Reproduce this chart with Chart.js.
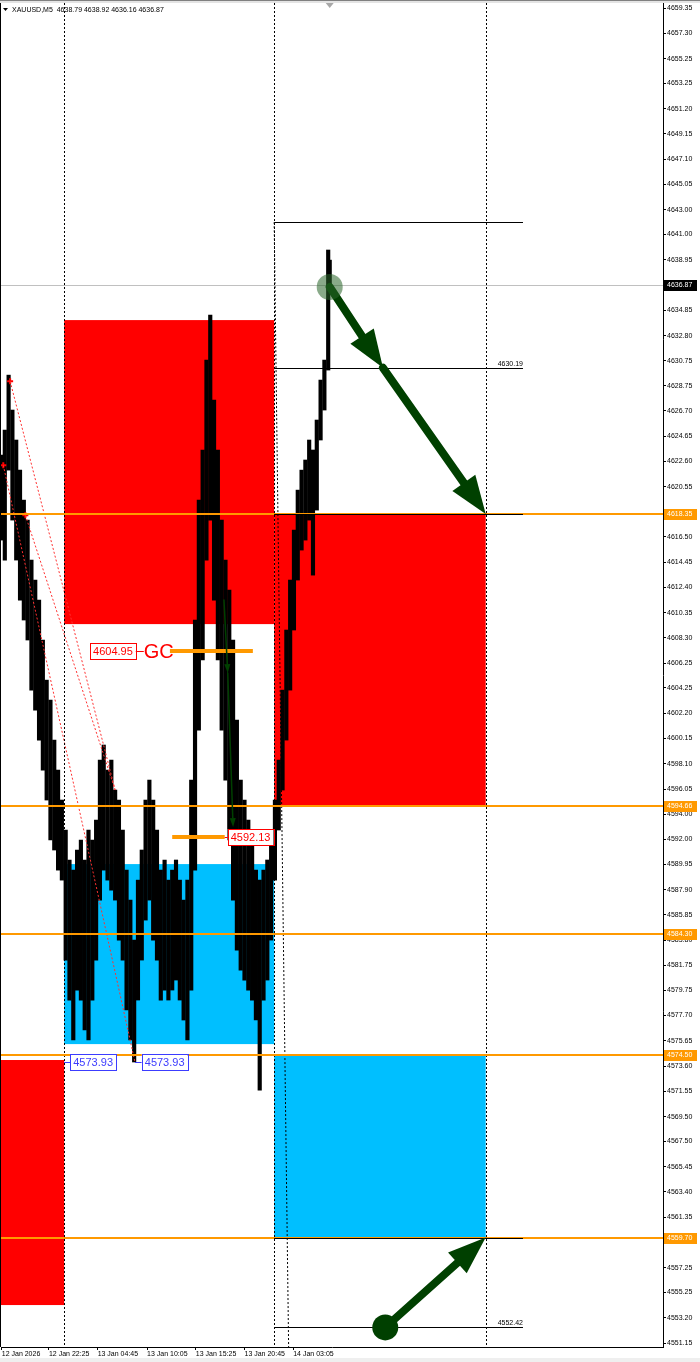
<!DOCTYPE html>
<html>
<head>
<meta charset="utf-8">
<script src="https://cdn.jsdelivr.net/npm/chart.js@4.4.1/dist/chart.umd.min.js"></script>
<style>
  html, body { margin: 0; padding: 0; background: #fff; }
  canvas { display: block; }
</style>
</head>
<body>
<canvas id="c" width="700" height="1362"></canvas>
<script>
// --- DATA ---
const symbolLine = "XAUUSD,M5  4638.79 4638.92 4636.16 4636.87";

// price axis labels
const priceTicks = [4659.35, 4657.30, 4655.25, 4653.25, 4651.20, 4649.15, 4647.10, 4645.05, 4643.00,
  4641.00, 4638.95, 4634.85, 4632.80, 4630.75, 4628.75, 4626.70, 4624.65, 4622.60, 4620.55,
  4616.50, 4614.45, 4612.40, 4610.35, 4608.30, 4606.25, 4604.25, 4602.20, 4600.15, 4598.10,
  4596.05, 4594.00, 4592.00, 4589.95, 4587.90, 4585.85, 4583.80, 4581.75, 4579.75, 4577.70,
  4575.65, 4573.60, 4571.55, 4569.50, 4567.50, 4565.45, 4563.40, 4561.35, 4559.30, 4557.25,
  4555.25, 4553.20, 4551.15];

// time axis (bar index -> label)
const timeTickIdx = [1, 63, 127, 192, 256, 320, 384];
const timeLabels = ["12 Jan 2026", "12 Jan 22:25", "13 Jan 04:45", "13 Jan 10:05", "13 Jan 15:25", "13 Jan 20:45", "14 Jan 03:05"];

// price bars (bar index, high, low)
const barIndex = [0, 5, 10, 15, 20, 25, 30, 35, 40, 45, 50, 55, 60, 65, 70, 75, 80, 85, 90, 95,
  100, 105, 110, 115, 120, 125, 130, 135, 140, 145, 150, 155, 160, 165, 170, 175, 180, 185, 190, 195,
  200, 205, 210, 215, 220, 225, 230, 235, 240, 245, 250, 255, 260, 265, 270, 275, 280, 285, 290, 295,
  300, 305, 310, 315, 320, 325, 330, 335, 340, 345, 350, 355, 360, 365, 370, 375, 380, 385, 390, 395,
  400, 405, 410, 415, 420, 425, 430, 432];
const barHigh = [4623.12, 4625.15, 4629.60, 4626.77, 4624.34, 4621.90, 4619.47, 4617.85, 4614.61, 4612.99,
  4611.37, 4608.13, 4604.88, 4603.26, 4600.02, 4597.59, 4595.16, 4592.73, 4590.30, 4589.48,
  4591.11, 4591.92, 4590.30, 4592.73, 4591.92, 4593.54, 4598.40, 4599.62, 4597.59, 4598.40,
  4595.97, 4595.16, 4592.73, 4589.48, 4587.05, 4583.81, 4588.67, 4591.11, 4595.16, 4596.78,
  4595.16, 4592.73, 4589.48, 4590.30, 4588.67, 4589.48, 4590.30, 4588.67, 4587.05, 4588.67,
  4596.78, 4609.75, 4619.47, 4623.53, 4630.82, 4634.47, 4627.58, 4623.53, 4617.85, 4614.61,
  4612.18, 4608.13, 4601.64, 4596.78, 4595.16, 4593.54, 4591.92, 4589.48, 4588.67, 4589.48,
  4590.30, 4591.92, 4595.16, 4598.40, 4604.07, 4608.94, 4612.99, 4617.04, 4620.28, 4621.90,
  4622.72, 4624.34, 4623.53, 4625.96, 4629.20, 4630.82, 4639.74, 4638.92];
const barLow = [4616.23, 4614.61, 4621.90, 4617.85, 4614.61, 4611.37, 4609.75, 4608.13, 4604.07, 4602.45,
  4600.02, 4597.59, 4595.16, 4591.92, 4591.11, 4589.48, 4588.67, 4582.19, 4578.95, 4575.71,
  4579.76, 4578.95, 4576.52, 4575.71, 4578.95, 4582.19, 4587.05, 4589.48, 4588.67, 4587.86,
  4587.05, 4583.81, 4582.19, 4578.14, 4575.71, 4573.93, 4578.95, 4582.19, 4585.43, 4587.05,
  4583.81, 4582.19, 4578.95, 4579.76, 4578.95, 4579.76, 4580.57, 4578.95, 4577.33, 4575.71,
  4579.76, 4589.48, 4600.83, 4606.51, 4614.61, 4617.85, 4611.37, 4606.51, 4600.83, 4596.78,
  4591.92, 4587.05, 4583.00, 4581.38, 4580.57, 4579.76, 4578.95, 4577.33, 4571.65, 4578.95,
  4580.57, 4583.81, 4588.67, 4592.73, 4595.97, 4600.02, 4604.07, 4608.94, 4612.99, 4615.42,
  4616.23, 4617.85, 4613.39, 4618.66, 4624.34, 4626.77, 4630.01, 4636.16];

// fractal crosses
const crossIdx = [12, 3, 32];
const crossPrice = [4629.10, 4622.30, 4618.25];

// zones (rectangles)
const zoneStart = [83, 83, 0, 359, 359];
const zoneEnd = [359, 359, 83, 637, 637];
const zoneTop = [4634.06, 4589.97, 4574.09, 4618.35, 4574.50];
const zoneBottom = [4609.42, 4575.38, 4554.23, 4594.66, 4559.70];
const zoneKind = ["supply", "demand", "supply", "supply", "demand"];

// horizontal levels across the chart
const levelPrices = [4618.35, 4594.66, 4584.30, 4574.50, 4559.70];
const currentPrice = 4636.87;

// short black lines (start, end, price, label)
const shortStart = 359, shortEnd = 686;
const shortPrices = [4642.00, 4630.19, 4618.35, 4559.70, 4552.42];
const shortLabels = ["", "4630.19", "", "", "4552.42"];

// vertical separators
const vLines = [83, 359, 637];
// dotted trend line
const trendFrom = [359, 4642.00];
const trendTo = [378, 4550.83];

// red dotted lines
const dotX0 = [12, 32, 3];
const dotP0 = [4629.10, 4618.25, 4622.30];
const dotX1 = [150, 150, 176];
const dotP1 = [4595.97, 4595.97, 4573.93];

// orange marker segments with labels
const segStart = [222, 225];
const segEnd = [331, 294];
const segPrice = [4607.25, 4592.13];
const segText = ["4604.95", "4592.13"];
const segTextIdx = [117, 294];

// blue labels
const blueFrom = [83, 176];
const blueIdx = [91, 185];
const bluePrice = 4573.93;

// big arrows
const arrowX0 = [432, 502, 505, 293, 298];
const arrowP0 = [4636.74, 4630.19, 4552.42, 4611.37, 4605.45];
const arrowX1 = [502, 637, 637, 298, 305];
const arrowP1 = [4630.19, 4618.35, 4559.70, 4605.45, 4592.97];
const arrowBig = [true, true, true, false, false];
const circleIdx = [432, 505];
const circlePrice = [4636.74, 4552.42];

// --- STYLE ---
const ORANGE = "#ff9900";
const zoneColor = { supply: "#ff0000", demand: "#00bfff" };
const GREEN = "#004000";
const FONT = "Liberation Sans";

function arrow(ctx, x0, y0, x1, y1, w, hl, hw) {
  const a = Math.atan2(y1 - y0, x1 - x0);
  const bx = x1 - Math.cos(a) * hl, by = y1 - Math.sin(a) * hl;
  ctx.strokeStyle = GREEN; ctx.fillStyle = GREEN;
  ctx.lineWidth = w; ctx.lineCap = "round";
  ctx.beginPath(); ctx.moveTo(x0, y0); ctx.lineTo(bx, by); ctx.stroke();
  ctx.beginPath();
  ctx.moveTo(x1, y1);
  ctx.lineTo(bx + Math.sin(a) * hw, by - Math.cos(a) * hw);
  ctx.lineTo(bx - Math.sin(a) * hw, by + Math.cos(a) * hw);
  ctx.closePath(); ctx.fill();
}

function boxLabel(ctx, text, xl, ym, color, size) {
  ctx.font = size + "px " + FONT;
  const w = ctx.measureText(text).width + 6, h = size + 5;
  ctx.fillStyle = "#fff";
  ctx.fillRect(xl, ym - h / 2, w, h);
  ctx.strokeStyle = color; ctx.lineWidth = 1;
  ctx.strokeRect(Math.round(xl) + 0.5, Math.round(ym - h / 2) + 0.5, Math.round(w), Math.round(h));
  ctx.fillStyle = color; ctx.textBaseline = "middle"; ctx.textAlign = "left";
  ctx.fillText(text, xl + 3, ym + 1);
  return w;
}

const overlay = {
  id: "overlay",
  beforeDatasetsDraw(chart) {
    const { ctx, chartArea: a, scales: { x, y } } = chart;
    ctx.save();
    ctx.beginPath(); ctx.rect(a.left, a.top, a.right - a.left, a.bottom - a.top); ctx.clip();
    zoneStart.forEach((s, i) => {
      const x0 = x.getPixelForValue(s), x1 = x.getPixelForValue(zoneEnd[i]);
      const y0 = y.getPixelForValue(zoneTop[i]), y1 = y.getPixelForValue(zoneBottom[i]);
      ctx.fillStyle = zoneColor[zoneKind[i]];
      ctx.fillRect(x0, y0, x1 - x0, y1 - y0);
    });
    // current price line
    const cy = Math.round(y.getPixelForValue(currentPrice)) + 0.5;
    ctx.strokeStyle = "#c0c0c0"; ctx.lineWidth = 1;
    ctx.beginPath(); ctx.moveTo(a.left, cy); ctx.lineTo(a.right, cy); ctx.stroke();
    ctx.restore();
  },
  afterDatasetsDraw(chart) {
    const { ctx, chartArea: a, scales: { x, y } } = chart;
    ctx.save();
    ctx.beginPath(); ctx.rect(a.left, a.top, a.right - a.left, a.bottom - a.top); ctx.clip();

    // red dotted lines
    ctx.strokeStyle = "#ff3030"; ctx.lineWidth = 1; ctx.setLineDash([2, 2]);
    dotX0.forEach((d, i) => {
      ctx.beginPath();
      ctx.moveTo(x.getPixelForValue(d), y.getPixelForValue(dotP0[i]));
      ctx.lineTo(x.getPixelForValue(dotX1[i]), y.getPixelForValue(dotP1[i]));
      ctx.stroke();
    });

    // vertical separators and trend line
    ctx.strokeStyle = "#000"; ctx.setLineDash([2, 2]);
    vLines.forEach(v => {
      const px = Math.round(x.getPixelForValue(v)) + 0.5;
      ctx.beginPath(); ctx.moveTo(px, a.top); ctx.lineTo(px, a.bottom); ctx.stroke();
    });
    ctx.beginPath();
    ctx.moveTo(x.getPixelForValue(trendFrom[0]), y.getPixelForValue(trendFrom[1]));
    ctx.lineTo(x.getPixelForValue(trendTo[0]), y.getPixelForValue(trendTo[1]));
    ctx.stroke();
    ctx.setLineDash([]);

    // orange levels
    ctx.strokeStyle = ORANGE; ctx.lineWidth = 2;
    levelPrices.forEach(p => {
      const py = Math.round(y.getPixelForValue(p));
      ctx.beginPath(); ctx.moveTo(a.left, py); ctx.lineTo(a.right, py); ctx.stroke();
    });

    // short black lines
    ctx.strokeStyle = "#000"; ctx.lineWidth = 1;
    ctx.font = "7px " + FONT; ctx.fillStyle = "#000"; ctx.textAlign = "right"; ctx.textBaseline = "bottom";
    shortPrices.forEach((p, i) => {
      const py = Math.round(y.getPixelForValue(p)) + 0.5;
      const xs = x.getPixelForValue(shortStart), xe = x.getPixelForValue(shortEnd);
      ctx.beginPath(); ctx.moveTo(xs, py); ctx.lineTo(xe, py); ctx.stroke();
      if (shortLabels[i]) ctx.fillText(shortLabels[i], xe, py - 1);
    });

    // orange segments + red labels
    segStart.forEach((s, i) => {
      const py = Math.round(y.getPixelForValue(segPrice[i]));
      ctx.strokeStyle = ORANGE; ctx.lineWidth = 4; ctx.lineCap = "butt";
      ctx.beginPath(); ctx.moveTo(x.getPixelForValue(s), py); ctx.lineTo(x.getPixelForValue(segEnd[i]), py); ctx.stroke();
    });
    {
      const py = Math.round(y.getPixelForValue(segPrice[0]));
      const xl = x.getPixelForValue(segTextIdx[0]);
      const w = boxLabel(ctx, segText[0], xl, py, "#ff0000", 11);
      ctx.strokeStyle = "#ff0000"; ctx.lineWidth = 1;
      ctx.beginPath(); ctx.moveTo(xl + w, py + 0.5); ctx.lineTo(xl + w + 8, py + 0.5); ctx.stroke();
      ctx.font = "20px " + FONT; ctx.fillStyle = "#ff0000"; ctx.textAlign = "left"; ctx.textBaseline = "middle";
      ctx.fillText("GC", xl + w + 8, py + 1);
    }
    {
      const py = Math.round(y.getPixelForValue(segPrice[1]));
      const xl = x.getPixelForValue(segTextIdx[1]);
      boxLabel(ctx, segText[1], xl + 3, py, "#ff0000", 11);
      ctx.strokeStyle = "#ff0000"; ctx.lineWidth = 1;
      ctx.beginPath(); ctx.moveTo(xl, py + 0.5); ctx.lineTo(xl + 3, py + 0.5); ctx.stroke();
    }

    // blue labels
    blueIdx.forEach((b, i) => {
      const py = Math.round(y.getPixelForValue(bluePrice));
      const xf = x.getPixelForValue(blueFrom[i]), xl = x.getPixelForValue(b);
      ctx.strokeStyle = "#3c3cff"; ctx.lineWidth = 1;
      ctx.beginPath(); ctx.moveTo(xf, py + 0.5); ctx.lineTo(xl, py + 0.5); ctx.stroke();
      boxLabel(ctx, bluePrice.toFixed(2), xl, py, "#3c3cff", 11);
    });

    // green arrows
    arrowX0.forEach((s, i) => {
      const big = arrowBig[i];
      arrow(ctx, x.getPixelForValue(s), y.getPixelForValue(arrowP0[i]),
        x.getPixelForValue(arrowX1[i]), y.getPixelForValue(arrowP1[i]),
        big ? 8 : 1.5, big ? 38 : 9, big ? 14 : 3);
    });
    // circles
    circleIdx.forEach((c, i) => {
      ctx.fillStyle = i === 0 ? "rgba(40,100,40,0.55)" : GREEN;
      ctx.beginPath();
      ctx.arc(x.getPixelForValue(c), y.getPixelForValue(circlePrice[i]), 13, 0, Math.PI * 2);
      ctx.fill();
    });
    ctx.restore();
  },
  afterDraw(chart) {
    const { ctx, chartArea: a, scales: { x, y } } = chart;
    ctx.save();
    // window frame bits
    ctx.fillStyle = "#808080"; ctx.fillRect(0, 0, 700, 1);
    ctx.fillStyle = "#e4e4e4"; ctx.fillRect(0, 1, 700, 2);
    ctx.fillStyle = "#efefef"; ctx.fillRect(0, 1358, 700, 4);
    ctx.fillStyle = "#000"; ctx.fillRect(0, a.top, 1, a.bottom - a.top);
    // chart shift marker
    const mx = x.getPixelForValue(432);
    ctx.fillStyle = "#a8a8a8";
    ctx.beginPath(); ctx.moveTo(mx - 4, 3); ctx.lineTo(mx + 4, 3); ctx.lineTo(mx, 8); ctx.closePath(); ctx.fill();
    // header
    ctx.fillStyle = "#000";
    ctx.beginPath(); ctx.moveTo(3, 8); ctx.lineTo(8, 8); ctx.lineTo(5.5, 11); ctx.closePath(); ctx.fill();
    ctx.font = "7px " + FONT; ctx.textAlign = "left"; ctx.textBaseline = "middle";
    ctx.fillText(symbolLine, 12, 10);
    // axis price boxes
    const boxes = levelPrices.map(p => [p, ORANGE]).concat([[currentPrice, "#000"]]);
    boxes.forEach(([p, col]) => {
      const py = Math.round(y.getPixelForValue(p));
      ctx.fillStyle = col; ctx.fillRect(a.right + 1, py - 5, 33, 11);
      ctx.fillStyle = "#fff"; ctx.fillText(p.toFixed(2), a.right + 4, py + 0.5);
    });
    ctx.restore();
  }
};

new Chart(document.getElementById("c"), {
  type: "bar",
  data: {
    datasets: [
      {
        type: "scatter",
        data: crossIdx.map((c, i) => ({ x: c, y: crossPrice[i] })),
        pointStyle: "cross", pointRadius: 3, borderColor: "#ff0000", borderWidth: 2,
        clip: false,
        order: 1
      },
      {
        type: "bar",
        data: barIndex.map((b, i) => ({ x: b, y: [barLow[i], barHigh[i]] })),
        backgroundColor: "#000", borderWidth: 0, barThickness: 3.5,
        order: 2
      }
    ]
  },
  options: {
    responsive: false,
    animation: false,
    devicePixelRatio: 1,
    layout: { autoPadding: false, padding: { top: 3, left: 1, right: 0, bottom: 0 } },
    plugins: { legend: { display: false }, tooltip: { enabled: false } },
    scales: {
      x: {
        type: "linear", position: "bottom", min: 0, max: 870, offset: false,
        grid: { drawOnChartArea: false, tickLength: 3, color: "#000", offset: false },
        border: { display: true, color: "#000" },
        ticks: {
          autoSkip: false, maxRotation: 0, minRotation: 0, align: "start", padding: 0,
          color: "#000", font: { family: FONT, size: 7 },
          callback: (v, i) => timeLabels[i] || ""
        },
        afterBuildTicks: s => { s.ticks = timeTickIdx.map(v => ({ value: v })); },
        afterFit: s => { s.height = 15; s.paddingLeft = 0; s.paddingRight = 0; }
      },
      y: {
        type: "linear", position: "right", min: 4550.83, max: 4659.76,
        grid: { drawOnChartArea: false, tickLength: 3, color: "#000" },
        border: { display: true, color: "#000" },
        ticks: {
          autoSkip: false, padding: 1, color: "#000", font: { family: FONT, size: 7 },
          callback: v => Number(v).toFixed(2)
        },
        afterBuildTicks: s => { s.ticks = priceTicks.map(v => ({ value: v })); },
        afterFit: s => { s.width = 37; s.paddingTop = 0; s.paddingBottom = 0; }
      }
    }
  },
  plugins: [overlay]
});
</script>
</body>
</html>
